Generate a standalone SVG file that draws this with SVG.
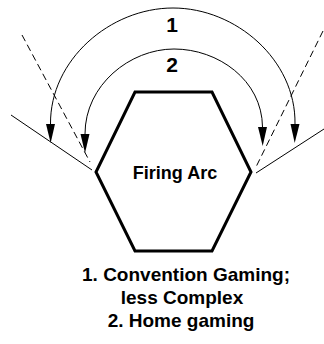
<svg xmlns="http://www.w3.org/2000/svg" width="324" height="344" viewBox="0 0 324 344">
<style>
.hex{fill:none;stroke:#000;stroke-width:3;stroke-linejoin:miter}
.edge{fill:none;stroke:#000;stroke-width:1}
.dash{fill:none;stroke:#000;stroke-width:1;stroke-dasharray:7 4}
.arc{fill:none;stroke:#000;stroke-width:1;marker-start:url(#ah);marker-end:url(#ah)}
text{font-family:"Liberation Sans","DejaVu Sans",sans-serif;font-weight:bold;fill:#000;text-anchor:middle}
</style>
<defs>
<marker id="ah" viewBox="0 -5 20 10" refX="0" refY="0" markerUnits="userSpaceOnUse" markerWidth="20" markerHeight="10" orient="auto-start-reverse">
<path d="M0,-4.5 L19,0 L0,4.5 z" fill="#000"/>
</marker>
</defs>
<g id="connectors">
<line class="edge" x1="11" y1="115" x2="92" y2="170"/>
<line class="dash" x1="22" y1="35" x2="90" y2="162"/>
<line class="edge" x1="256" y1="173" x2="324" y2="129"/>
<line class="dash" x1="323" y1="31" x2="256" y2="167"/>
<path id="arc1" class="arc" d="M50.5,124 C50,60 110,8 173,8 C236,8 296,60 295,124"/>
<path id="arc2" class="arc" d="M85,134 C85,85 130,49 174,49 C218,49 262,80 262.5,127"/>
</g>
<g id="label1"><text x="172" y="32" font-size="21">1</text></g>
<g id="label2"><text x="172" y="72" font-size="21">2</text></g>
<g id="hexagon">
<polygon class="hex" points="135,92 212,92 251,172 212,251 135,251 96,172"/>
<text x="175" y="179" font-size="18">Firing Arc</text>
</g>
<g id="legend">
<text x="186" y="281" font-size="19">1. Convention Gaming;</text>
<text x="182" y="304" font-size="19">less Complex</text>
<text x="181" y="327" font-size="19">2. Home gaming</text>
</g>
</svg>
